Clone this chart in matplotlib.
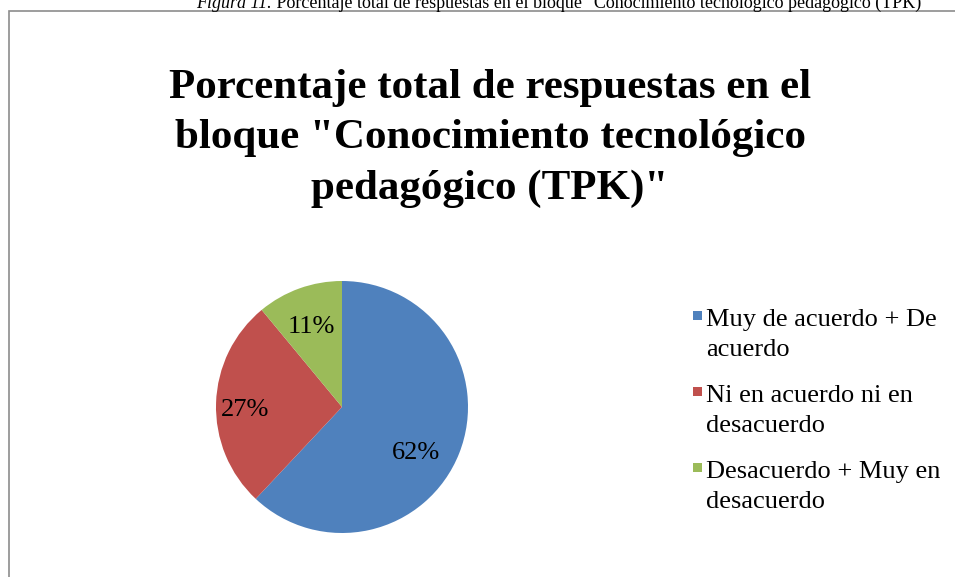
import matplotlib.pyplot as plt
from matplotlib.patches import Rectangle

plt.rcParams['font.family'] = ['Liberation Serif', 'DejaVu Serif']

# Data
categorias = ['Muy de acuerdo + De\nacuerdo',
              'Ni en acuerdo ni en\ndesacuerdo',
              'Desacuerdo + Muy en\ndesacuerdo']
porcentajes = [62, 27, 11]
colores = ['#4F81BD', '#C0504D', '#9BBB59']

titulo = 'Porcentaje total de respuestas en el\nbloque "Conocimiento tecnológico\npedagógico (TPK)"'
pie_fig = 'Porcentaje total de respuestas en el bloque "Conocimiento tecnológico pedagógico (TPK)'

W, H = 955, 577
fig = plt.figure(figsize=(W / 100, H / 100), dpi=100)

def px(x, y):
    # pixel coords (top-left origin) -> figure fraction
    return x / W, 1 - y / H

# chart frame (cut by the page)
fig.patches.append(Rectangle(px(8.5, 700), 2, (700 - 10.5) / H, transform=fig.transFigure,
                             fill=False, edgecolor='#8c8c8c', lw=1.2))

# caption from the document, clipped at the top
t1 = fig.text(*px(196, 8), 'Figura 11.', fontsize=13, style='italic', va='baseline')
fig.canvas.draw()
bb = t1.get_window_extent()
t2 = fig.text(bb.x1 / W, 1 - 8 / H, ' ' + pie_fig, fontsize=13, va='baseline')

# title
fig.text(*px(490, 199), titulo, fontsize=31, fontweight='bold', ha='center', va='baseline',
         multialignment='center', linespacing=1.42)

# pie
ax = fig.add_axes([216 / W, (H - 533) / H, 252 / W, 252 / H])
wedges, textos, autotextos = ax.pie(porcentajes, colors=colores, startangle=90, counterclock=False,
                                    autopct='%.0f%%', pctdistance=0.72, radius=1,
                                    wedgeprops=dict(linewidth=0))
ajustes = [(-0.08, -0.10), (-0.05, -0.05), (0.0, -0.04)]
for t, (dx, dy) in zip(autotextos, ajustes):
    t.set_fontsize(19)
    x, y = t.get_position()
    t.set_position((x + dx, y + dy))
ax.set_xlim(-1, 1)
ax.set_ylim(-1, 1)
ax.set_aspect('equal')
ax.axis('off')

# legend (square aligned with the first line of each label)
for i, (lab, col) in enumerate(zip(categorias, colores)):
    y0 = 325 + i * 76
    fig.patches.append(Rectangle(px(693, y0 - 5), 9 / W, 9 / H, transform=fig.transFigure,
                                 facecolor=col, edgecolor='none'))
    # va='baseline' puts the last line on y, so go one line down
    fig.text(*px(706, y0 + 31), lab, fontsize=19, va='baseline', linespacing=1.45)

fig.savefig('out.png', dpi=100)
